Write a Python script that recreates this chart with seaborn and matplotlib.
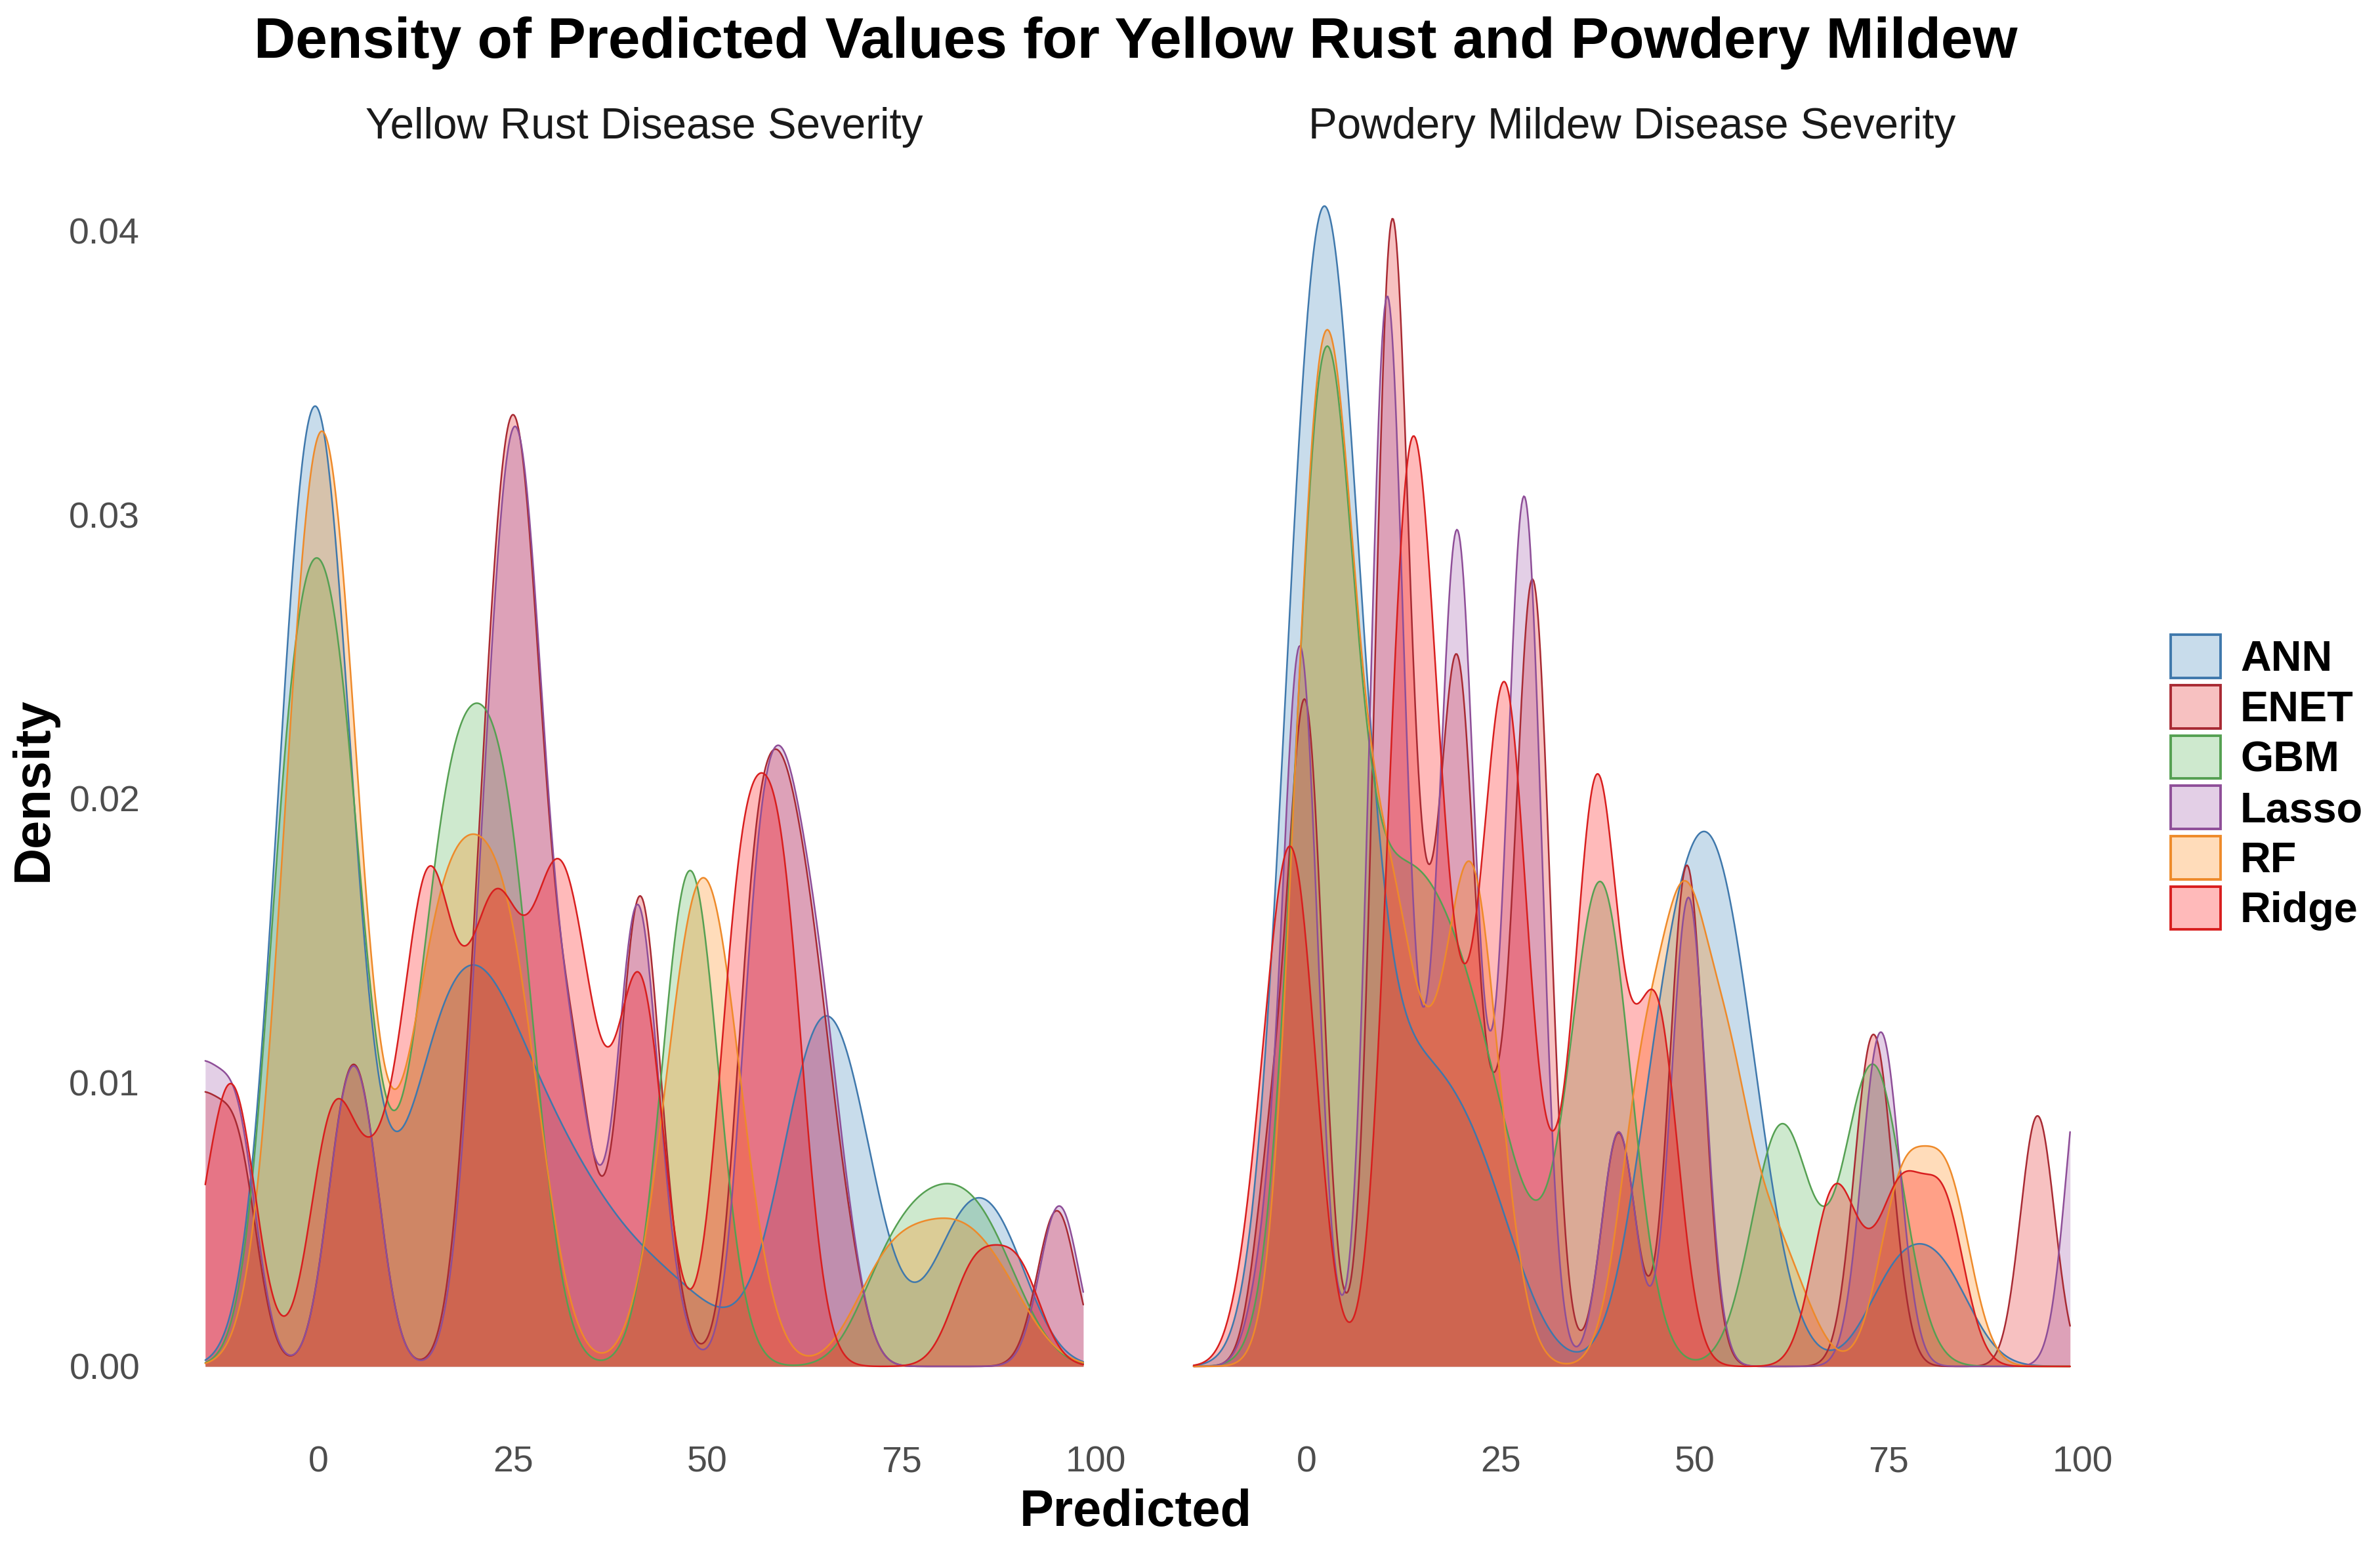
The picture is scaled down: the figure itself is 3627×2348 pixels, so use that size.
import numpy as np
import pandas as pd
import seaborn as sns
import matplotlib.pyplot as plt
from matplotlib.colors import to_rgba
from matplotlib.patches import Patch

models = ['ANN', 'ENET', 'GBM', 'Lasso', 'RF', 'Ridge']
panels = ['Yellow Rust Disease Severity', 'Powdery Mildew Disease Severity']

# predicted severity values and how many predictions sit at each value
# --- yellow rust
yr_ann_x = [-2.6, 1.6, 10, 15, 20, 25, 30, 35, 40, 45, 50, 55, 61, 65.4, 70, 81, 85, 89]
yr_ann_n = [225, 225, 30, 78, 92, 72, 52, 38, 26, 20, 12, 6, 52, 88, 52, 28, 35, 28]
yr_enet_x = [-19.6, -15, -10.4, 3.0, 6.0, 20.3, 23.3, 26.0, 28.4, 31.5, 34, 41.2, 44.5, 56.0, 59.8, 63.6, 67.5, 95.0]
yr_enet_n = [40, 40, 40, 36, 36, 45, 92, 96, 48, 32, 30, 88, 12, 78, 78, 58, 22, 31]
yr_gbm_x = [-3.2, 2.5, 9, 15.6, 20.4, 25.2, 47.8, 72, 76.5, 81, 85.5, 90]
yr_gbm_n = [200, 200, 30, 132, 132, 132, 180, 22, 32, 35, 33, 14]
yr_lasso_x = [-19.6, -15, -10.4, 3.0, 6.0, 20.5, 23.5, 26.2, 28.6, 31.5, 34, 40.9, 44.5, 56.5, 60.2, 64.0, 67.5, 95.3]
yr_lasso_n = [46, 46, 46, 37, 37, 45, 92, 100, 48, 30, 30, 90, 12, 80, 80, 58, 22, 33]
yr_rf_x = [-1.7, 2.5, 14.4, 19.9, 25.4, 47.4, 51.6, 72, 77, 82.5, 87.5, 91]
yr_rf_n = [197, 197, 110, 110, 110, 103, 103, 25, 28, 32, 20, 5]
yr_ridge_x = [-15.5, -11, 1.9, 8, 13.8, 18.3, 22.7, 26.6, 30.5, 34.5, 41.4, 54.4, 59.6, 84.4, 90]
yr_ridge_n = [15, 70, 65, 40, 110, 45, 90, 40, 90, 60, 100, 115, 115, 25, 25]

# --- powdery mildew
pm_ann_x = [-0.1, 4.1, 9, 13, 17, 21, 25, 28.5, 45.5, 50.5, 55, 59, 76, 82]
pm_ann_n = [240, 240, 40, 50, 45, 40, 25, 6, 80, 110, 90, 20, 30, 30]
pm_enet_x = [-4.5, -0.1, 10.9, 15.3, 19.5, 24.5, 29.2, 40.2, 49, 72.1, 74, 94.2]
pm_enet_n = [35, 112, 195, 45, 115, 30, 135, 41, 88, 32, 32, 44]
pm_gbm_x = [2.2, 9, 13.5, 18, 22.5, 27, 31, 37.2, 38.6, 61.2, 73]
pm_gbm_n = [305, 75, 80, 70, 55, 25, 8, 77, 77, 76, 95]
pm_lasso_x = [-5, -0.8, 10.3, 15, 19.4, 24, 28.1, 40.2, 49.2, 73.05, 74.95, 100.1]
pm_lasso_n = [20, 138, 207, 28, 158, 20, 167, 46, 92, 36, 36, 62]
pm_rf_x = [0.4, 4.0, 7.5, 10.5, 13.5, 17, 21, 24.5, 43.2, 48.7, 54.2, 59.5, 63.5, 76.8, 82.6]
pm_rf_n = [152, 152, 40, 70, 35, 30, 100, 30, 65, 100, 65, 25, 12, 45, 45]
pm_ridge_x = [-6.5, -3.2, -0.6, 12.6, 15.5, 18.3, 22, 25.8, 31.5, 37.3, 41.5, 45.3, 67.8, 72, 76.7, 82.1]
pm_ridge_n = [20, 60, 60, 140, 80, 30, 35, 130, 25, 118, 20, 70, 35, 12, 34, 34]

# kernel bandwidth per model, in severity units
bandwidth = {
    panels[0]: {'ANN': 4.0, 'ENET': 2.5, 'GBM': 3.6, 'Lasso': 2.5, 'RF': 4.0, 'Ridge': 3.0},
    panels[1]: {'ANN': 4.0, 'ENET': 2.2, 'GBM': 3.8, 'Lasso': 2.2, 'RF': 3.0, 'Ridge': 2.7},
}
data_range = (-14.6, 98.4)

series = [
    (panels[0], 'ANN', yr_ann_x, yr_ann_n), (panels[0], 'ENET', yr_enet_x, yr_enet_n),
    (panels[0], 'GBM', yr_gbm_x, yr_gbm_n), (panels[0], 'Lasso', yr_lasso_x, yr_lasso_n),
    (panels[0], 'RF', yr_rf_x, yr_rf_n), (panels[0], 'Ridge', yr_ridge_x, yr_ridge_n),
    (panels[1], 'ANN', pm_ann_x, pm_ann_n), (panels[1], 'ENET', pm_enet_x, pm_enet_n),
    (panels[1], 'GBM', pm_gbm_x, pm_gbm_n), (panels[1], 'Lasso', pm_lasso_x, pm_lasso_n),
    (panels[1], 'RF', pm_rf_x, pm_rf_n), (panels[1], 'Ridge', pm_ridge_x, pm_ridge_n),
]
rows = []
for panel, model, xs, ns in series:
    for x, n in zip(xs, ns):
        rows.append({'panel': panel, 'model': model, 'predicted': x, 'count': n})
df = pd.DataFrame(rows)

fill_colors = {'ANN': '#377EB8', 'ENET': '#E41A1C', 'GBM': '#4DAF4A',
               'Lasso': '#984EA3', 'RF': '#FF7F00', 'Ridge': '#FF0000'}
line_colors = {'ANN': '#3F78AC', 'ENET': '#A82A33', 'GBM': '#55A052',
               'Lasso': '#8E4E98', 'RF': '#EE8A2A', 'Ridge': '#D81E1E'}
alpha = 0.27

sns.set_theme(style='white')
plt.rcParams['font.family'] = ['Liberation Sans', 'DejaVu Sans']

fig = plt.figure(figsize=(3627 / 200, 2348 / 200), dpi=200)
ax1 = fig.add_axes([0.0678, 0.0759, 0.4058, 0.8228])
ax2 = fig.add_axes([0.4831, 0.0759, 0.4051, 0.8228])

for ax, panel in zip([ax1, ax2], panels):
    sub = df[df['panel'] == panel]
    for m in models:
        d = sub[sub['model'] == m]
        sd = np.sqrt(np.cov(d['predicted'], aweights=d['count']))
        kws = dict(x=d['predicted'], weights=d['count'], bw_method=bandwidth[panel][m] / sd,
                   cut=30, clip=data_range, gridsize=800, ax=ax)
        sns.kdeplot(**kws, fill=True, color=fill_colors[m], alpha=alpha, linewidth=0)
        sns.kdeplot(**kws, color=line_colors[m], linewidth=0.9)

    ax.set_xlim(-20.25, 104.05)
    ax.set_ylim(-0.00203, 0.04263)
    ax.set_xticks([0, 25, 50, 75, 100])
    ax.set_yticks([0, 0.01, 0.02, 0.03, 0.04])
    ax.set_yticklabels(['0.00', '0.01', '0.02', '0.03', '0.04'])
    ax.tick_params(length=0, labelsize=20, colors='#4D4D4D', pad=11.8)
    for s in ax.spines.values():
        s.set_visible(False)
    ax.grid(False)
    ax.set_xlabel('')
    ax.set_ylabel('')
    ax.text(0.5, 1.0141, panel, transform=ax.transAxes, ha='center', va='baseline',
            fontsize=23.6, color='#1A1A1A')

ax2.tick_params(labelleft=False)

fig.text(0.4773, 0.9625, 'Density of Predicted Values for Yellow Rust and Powdery Mildew',
         ha='center', va='baseline', fontsize=31.5, fontweight='bold', color='black')
fig.text(0.4773, 0.0098, 'Predicted', ha='center', va='baseline', fontsize=28,
         fontweight='bold', color='black')
fig.text(0.014, 0.4877, 'Density', ha='center', va='center', rotation=90,
         fontsize=28, fontweight='bold', color='black')

handles = [Patch(facecolor=to_rgba(fill_colors[m], alpha), edgecolor=line_colors[m],
                 linewidth=1.4, label=m) for m in models]
leg = fig.legend(handles=handles, loc='upper left', bbox_to_anchor=(0.912, 0.588),
                 frameon=False, borderpad=0, borderaxespad=0, handlelength=1.18,
                 handleheight=1.18, handletextpad=0.46, labelspacing=0.14,
                 prop={'size': 23.3, 'weight': 'bold'})
for t in leg.get_texts():
    t.set_color('black')

fig.savefig('out.png', dpi=200, facecolor='white')
